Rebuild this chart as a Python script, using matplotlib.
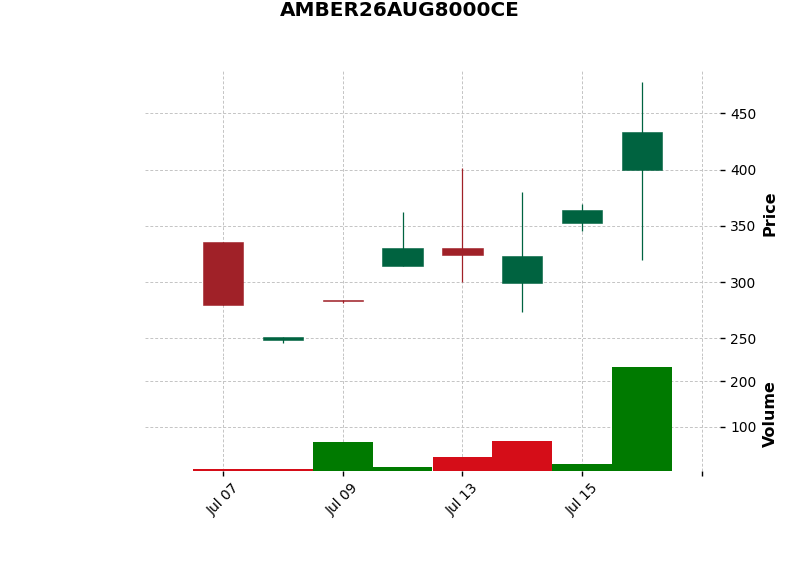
import matplotlib
matplotlib.use("Agg")
import matplotlib.pyplot as plt
import numpy as np

# ---- data ----
dates = ["2026-07-07", "2026-07-08", "2026-07-09", "2026-07-10",
         "2026-07-13", "2026-07-14", "2026-07-15", "2026-07-16"]
opens = [336.0, 248.5, 284.5, 314.0, 330.5, 299.5, 352.5, 400.0]
highs = [336.0, 251.0, 284.5, 362.0, 401.5, 380.0, 369.0, 477.5]
lows = [280.0, 245.5, 281.0, 314.0, 300.0, 273.0, 345.5, 320.0]
closes = [280.0, 251.0, 283.0, 330.5, 324.0, 323.5, 364.0, 433.5]
volumes = [5, 7, 65, 10, 32, 68, 18, 233]
xtick_pos = [0, 2, 4, 6, 8]
xtick_labels = ["Jul 07", "Jul 09", "Jul 13", "Jul 15", ""]
price_ticks = [250, 300, 350, 400, 450]
volume_ticks = [100, 200]
title = "AMBER26AUG8000CE"

UP, DOWN = "#006340", "#a02128"
VUP, VDOWN = "#007a00", "#d50d18"
GRID = "#c4c4c4"

o = np.array(opens); h = np.array(highs); l = np.array(lows); c = np.array(closes)
v = np.array(volumes, dtype=float)
x = np.arange(len(dates))

fig = plt.figure(figsize=(8, 5.75), dpi=100)
left, right = 145 / 800, 720 / 800
axp = fig.add_axes([left, 1 - 356 / 575, right - left, (356 - 70) / 575])
axv = fig.add_axes([left, 1 - 471 / 575, right - left, (471 - 356) / 575], sharex=axp)

# candles
ccol = [UP if cc >= oo else DOWN for oo, cc in zip(o, c)]
axp.vlines(x, l, h, colors=ccol, linewidth=0.9, zorder=3)
axp.bar(x, np.abs(c - o), width=0.67, bottom=np.minimum(o, c), color=ccol,
        edgecolor=ccol, linewidth=0.4, zorder=4)

# volume colored by close vs previous close
vcol = []
for i in range(len(c)):
    ref = c[i - 1] if i > 0 else o[i]
    vcol.append(VUP if c[i] >= ref else VDOWN)
axv.bar(x, v, width=1.0, color=vcol, linewidth=0, zorder=3)

for ax in (axp, axv):
    for s in ax.spines.values():
        s.set_visible(False)
    ax.grid(True, color=GRID, linestyle=(0, (3, 2)), linewidth=0.7, zorder=0)
    ax.set_axisbelow(True)
    ax.yaxis.tick_right()
    ax.yaxis.set_label_position("right")
    ax.tick_params(axis="y", which="both", left=False, right=True, length=3.5,
                   width=1, labelsize=10, pad=4)
    ax.set_facecolor("white")

axp.set_xlim(-1.3, 8.3)
axp.set_ylim(234.3, 488.5)
axp.set_yticks(price_ticks)
axp.tick_params(axis="x", bottom=False, labelbottom=False)
axp.set_ylabel("Price", fontsize=11.5, fontweight="bold", labelpad=4.5)

axv.set_ylim(0.3 * v.min(), 1.1 * v.max())
axv.set_yticks(volume_ticks)
axv.set_xticks(xtick_pos)
axv.set_xticklabels(xtick_labels, rotation=45, fontsize=10)
axv.tick_params(axis="x", bottom=True, length=3.5, width=1)
axv.set_ylabel("Volume", fontsize=11.5, fontweight="bold", labelpad=4.5)

fig.text(0.5, 1 - 11 / 575, title, ha="center", va="center",
         fontsize=14.4, fontweight="bold")

fig.savefig("out.png", dpi=100, facecolor="white")
